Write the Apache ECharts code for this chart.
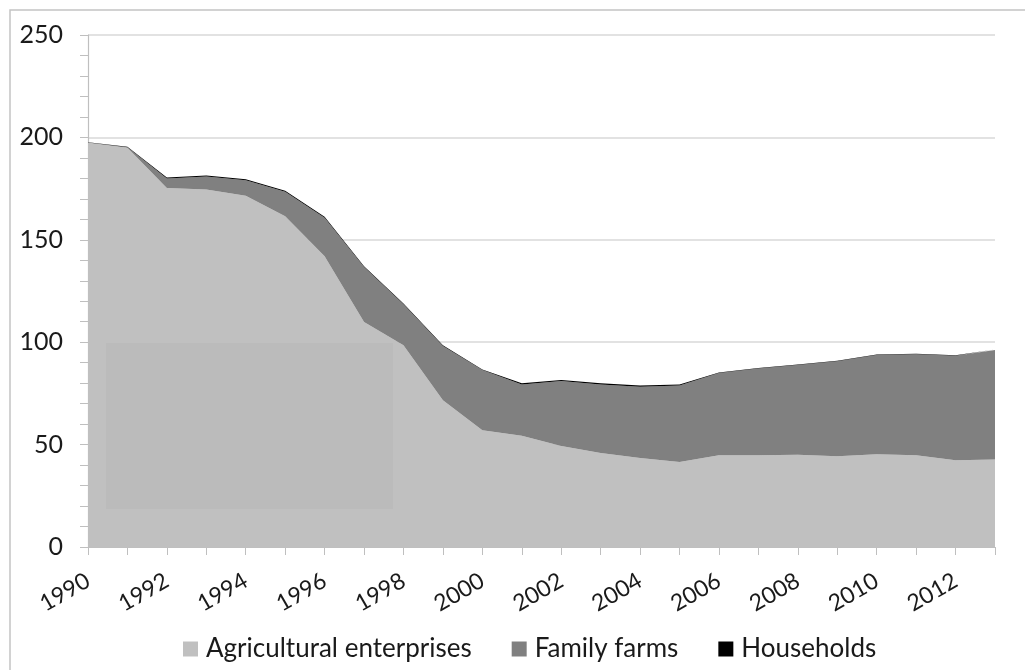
<!DOCTYPE html>
<html>
<head>
<meta charset="utf-8">
<script src="https://cdn.jsdelivr.net/npm/echarts@6/dist/echarts.min.js"></script>
<style>html,body{margin:0;padding:0;background:#fff}#c{width:1025px;height:670px}</style>
</head>
<body>
<div id="c"></div>
<script>
const years = ['1990','1991','1992','1993','1994','1995','1996','1997','1998','1999','2000','2001','2002','2003','2004','2005','2006','2007','2008','2009','2010','2011','2012','2013'];
const agriculturalEnterprises = [197.4,195.0,175.3,174.6,171.5,161.5,142.0,109.9,98.5,71.7,57.0,54.3,49.3,45.9,43.5,41.5,44.8,44.8,45.1,44.3,45.3,44.8,42.4,42.7];
const familyFarms = [0.1,0.2,4.6,6.3,7.6,12.0,18.8,26.8,20.0,26.5,29.4,25.1,31.7,33.5,34.8,37.4,40.2,42.4,43.8,46.4,48.5,49.3,51.0,53.5];
const households = [0.1,0.2,0.5,0.5,0.5,0.5,0.4,0.4,0.4,0.3,0.3,0.5,0.5,0.5,0.5,0.5,0.2,0.2,0.2,0.2,0.2,0.2,0.2,0.2];
const yTicks = [0,50,100,150,200,250];

const chart = echarts.init(document.getElementById('c'));
const font = 'Lato, "Open Sans", sans-serif';
const mk = (name, data, color) => ({
  name, type: 'line', stack: 'total', data, symbol: 'none', smooth: false,
  lineStyle: {width: 0}, areaStyle: {color: color, opacity: 1}, itemStyle: {color: color},
  emphasis: {disabled: true}
});
chart.setOption({
  animation: false,
  graphic: [
    {type: 'rect', shape: {x: 10, y: 10, width: 1030, height: 680}, style: {fill: 'none', stroke: '#c4c4c4', lineWidth: 1.5}, silent: true},
    {type: 'rect', z: 100, shape: {x: 106, y: 343, width: 287, height: 166}, style: {fill: 'rgba(0,0,0,0.022)'}, silent: true}
  ],
  grid: {left: 88, right: 30, top: 35, bottom: 123},
  legend: {
    bottom: 3, left: 178, itemWidth: 15, itemHeight: 15, itemGap: 40, icon: 'rect',
    textStyle: {fontFamily: font, fontSize: 26, color: '#1a1a1a', padding: [0, 0, 0, 3]},
    data: ['Agricultural enterprises', 'Family farms', 'Households']
  },
  xAxis: {
    type: 'category', data: years, boundaryGap: false,
    axisLine: {lineStyle: {color: '#bfbfbf', width: 1.2}},
    axisTick: {show: true, interval: 0, length: 8, lineStyle: {color: '#bfbfbf'}},
    axisLabel: {interval: 1, rotate: 30, fontFamily: font, fontSize: 23, color: '#1a1a1a', margin: 32},
    splitLine: {show: false}
  },
  yAxis: {
    type: 'value', min: yTicks[0], max: yTicks[yTicks.length - 1], interval: 50,
    axisLine: {show: true, lineStyle: {color: '#bfbfbf', width: 1.2}},
    axisTick: {show: true, length: 8, lineStyle: {color: '#bfbfbf'}},
    minorTick: {show: true, splitNumber: 5, length: 8, lineStyle: {color: '#bfbfbf'}},
    axisLabel: {fontFamily: font, fontSize: 25, color: '#1a1a1a', margin: 25},
    splitLine: {lineStyle: {color: '#d9d9d9', width: 1.5}}
  },
  series: [
    mk('Agricultural enterprises', agriculturalEnterprises, '#c0c0c0'),
    mk('Family farms', familyFarms, '#808080'),
    mk('Households', households, '#000000')
  ]
});
</script>
</body>
</html>
